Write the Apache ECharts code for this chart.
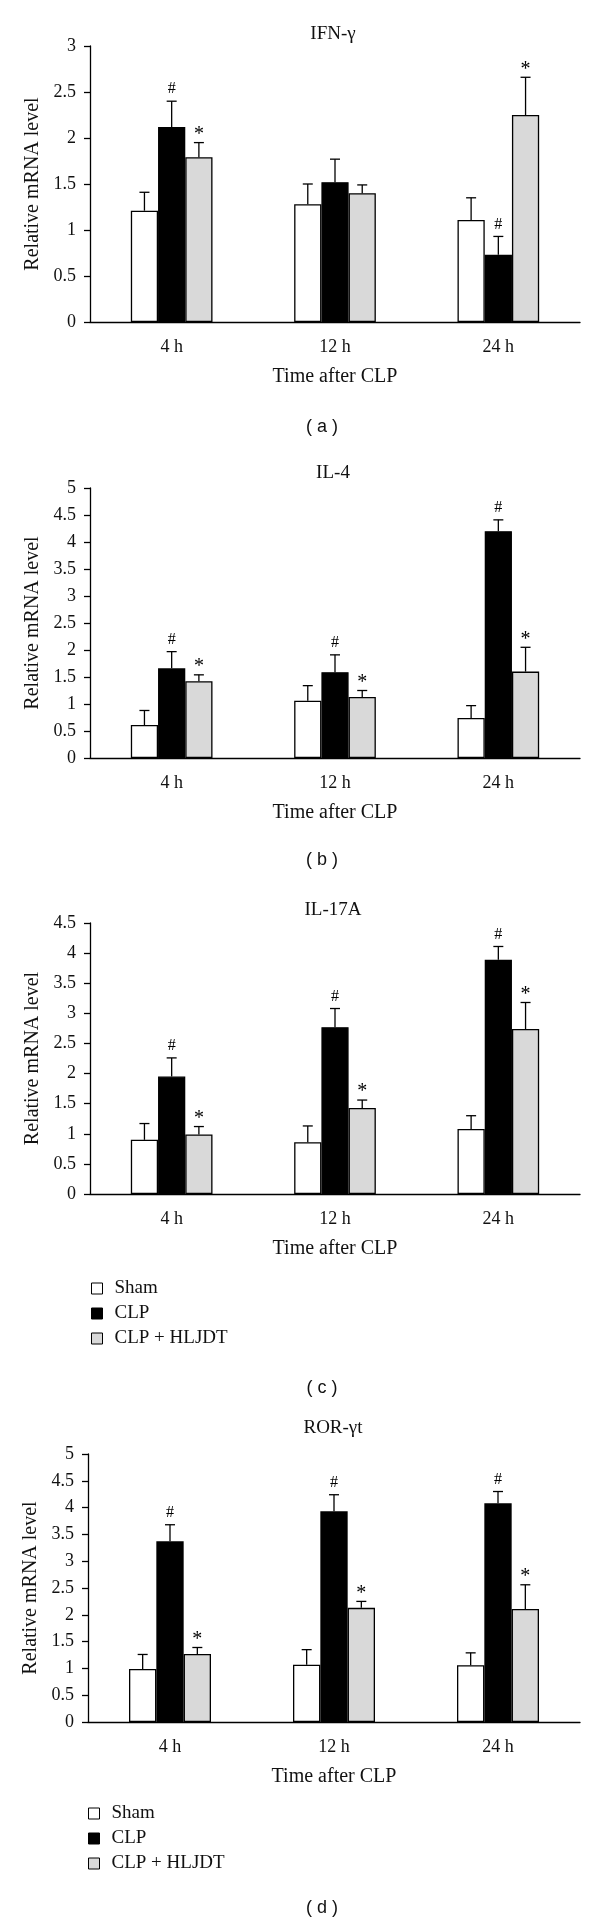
<!DOCTYPE html>
<html>
<head>
<meta charset="utf-8">
<title>Relative mRNA level after CLP</title>
<script src="https://cdn.jsdelivr.net/npm/echarts@6/dist/echarts.min.js"></script>
<style>
    html, body { margin: 0; padding: 0; background: #fff; }
    #chart { width: 600px; height: 1927px; }
</style>
</head>
<body>
<div id="chart"></div>
<script>
var categories = ['4 h', '12 h', '24 h'];
var groupNames = ['Sham', 'CLP', 'CLP + HLJDT'];

// IFN-γ
var ifnSham = [1.21, 1.28, 1.11];
var ifnShamErr = [0.20, 0.22, 0.24];
var ifnClp = [2.12, 1.52, 0.73];
var ifnClpErr = [0.28, 0.25, 0.20];
var ifnHljdt = [1.79, 1.40, 2.25];
var ifnHljdtErr = [0.16, 0.09, 0.41];
var ifnClpMarks = ['#', '', '#'];
var ifnHljdtMarks = ['*', '', '*'];

// IL-4
var il4Sham = [0.61, 1.06, 0.74];
var il4ShamErr = [0.27, 0.28, 0.23];
var il4Clp = [1.66, 1.59, 4.20];
var il4ClpErr = [0.31, 0.32, 0.21];
var il4Hljdt = [1.42, 1.13, 1.60];
var il4HljdtErr = [0.12, 0.12, 0.45];
var il4ClpMarks = ['#', '#', '#'];
var il4HljdtMarks = ['*', '*', '*'];

// IL-17A
var il17Sham = [0.90, 0.86, 1.08];
var il17ShamErr = [0.27, 0.27, 0.22];
var il17Clp = [1.95, 2.77, 3.89];
var il17ClpErr = [0.31, 0.31, 0.22];
var il17Hljdt = [0.99, 1.43, 2.74];
var il17HljdtErr = [0.13, 0.13, 0.44];
var il17ClpMarks = ['#', '#', '#'];
var il17HljdtMarks = ['*', '*', '*'];

// ROR-γt
var rorSham = [0.99, 1.07, 1.06];
var rorShamErr = [0.27, 0.28, 0.23];
var rorClp = [3.37, 3.93, 4.08];
var rorClpErr = [0.31, 0.31, 0.22];
var rorHljdt = [1.27, 2.13, 2.11];
var rorHljdtErr = [0.12, 0.12, 0.45];
var rorClpMarks = ['#', '#', '#'];
var rorHljdtMarks = ['*', '*', '*'];

var yMax = [3, 5, 4.5, 5];
var noMarks = ['', '', ''];

var serif = '"Liberation Serif", "DejaVu Serif", serif';
var sans = '"Liberation Sans", "DejaVu Sans", sans-serif';
var barColors = ['#ffffff', '#000000', '#d9d9d9'];

var panels = [
    { title: 'IFN-\u03b3', tag: '( a )', left: 90, top: 46, height: 276, titleY: 34, tagY: 427,
      vals: [ifnSham, ifnClp, ifnHljdt], errs: [ifnShamErr, ifnClpErr, ifnHljdtErr], marks: [noMarks, ifnClpMarks, ifnHljdtMarks] },
    { title: 'IL-4', tag: '( b )', left: 90, top: 488, height: 270, titleY: 473, tagY: 860,
      vals: [il4Sham, il4Clp, il4Hljdt], errs: [il4ShamErr, il4ClpErr, il4HljdtErr], marks: [noMarks, il4ClpMarks, il4HljdtMarks] },
    { title: 'IL-17A', tag: '( c )', left: 90, top: 923, height: 271, titleY: 910, tagY: 1388,
      vals: [il17Sham, il17Clp, il17Hljdt], errs: [il17ShamErr, il17ClpErr, il17HljdtErr], marks: [noMarks, il17ClpMarks, il17HljdtMarks] },
    { title: 'ROR-\u03b3t', tag: '( d )', left: 88, top: 1454, height: 268, titleY: 1428, tagY: 1908,
      vals: [rorSham, rorClp, rorHljdt], errs: [rorShamErr, rorClpErr, rorHljdtErr], marks: [noMarks, rorClpMarks, rorHljdtMarks] }
];

var chart = echarts.init(document.getElementById('chart'));

var option = {
    animation: false,
    backgroundColor: '#fff',
    grid: [],
    xAxis: [],
    yAxis: [],
    series: [],
    graphic: [],
    legend: []
};

function makeErrorRender(panel) {
    return function (params, api) {
        var cat = api.value(0);
        var idx = api.value(1);
        var val = api.value(2);
        var err = api.value(3);
        var band = api.size([1, 0])[0];
        var barW = band * 0.5 / 3;
        var base = api.coord([cat, val]);
        var x = base[0] + (idx - 1) * barW;
        var topY = api.coord([cat, val + err])[1];
        var children = [
            { type: 'line', shape: { x1: x, y1: base[1], x2: x, y2: topY }, style: { stroke: '#000', lineWidth: 1.3 } },
            { type: 'line', shape: { x1: x - 5, y1: topY, x2: x + 5, y2: topY }, style: { stroke: '#000', lineWidth: 1.3 } }
        ];
        var mark = panel.marks[idx][cat];
        if (mark) {
            children.push({
                type: 'text',
                style: {
                    text: mark,
                    x: x,
                    y: mark === '*' ? topY + 2 : topY - 4,
                    textAlign: 'center',
                    textVerticalAlign: 'bottom',
                    font: (mark === '*' ? '20px ' : '16px ') + serif,
                    fill: '#000'
                }
            });
        }
        return { type: 'group', children: children };
    };
}

panels.forEach(function (panel, p) {
    option.grid.push({ left: panel.left, right: 20, top: panel.top, height: panel.height });
    option.xAxis.push({
        type: 'category',
        gridIndex: p,
        data: categories,
        axisLine: { lineStyle: { color: '#000', width: 1.3 } },
        axisTick: { length: 6, lineStyle: { color: '#000', width: 1.3 } },
        axisLabel: { margin: 16, color: '#111', fontSize: 18, fontFamily: serif },
        name: 'Time after CLP',
        nameLocation: 'middle',
        nameGap: 45,
        nameTextStyle: { color: '#111', fontSize: 20, fontFamily: serif }
    });
    option.yAxis.push({
        type: 'value',
        gridIndex: p,
        min: 0,
        max: yMax[p],
        interval: 0.5,
        splitLine: { show: false },
        axisLine: { show: true, lineStyle: { color: '#000', width: 1.3 } },
        axisTick: { show: true, length: 6, lineStyle: { color: '#000', width: 1.3 } },
        axisLabel: { margin: 14, color: '#111', fontSize: 18, fontFamily: serif },
        name: 'Relative mRNA level',
        nameLocation: 'middle',
        nameGap: 46,
        nameTextStyle: { color: '#111', fontSize: 20, fontFamily: serif }
    });

    var errData = [];
    groupNames.forEach(function (name, g) {
        option.series.push({
            name: name,
            type: 'bar',
            xAxisIndex: p,
            yAxisIndex: p,
            barGap: '0%',
            barCategoryGap: '50%',
            data: panel.vals[g],
            itemStyle: { color: barColors[g], borderColor: '#000', borderWidth: 1.3 }
        });
        panel.vals[g].forEach(function (v, c) {
            errData.push([c, g, v, panel.errs[g][c]]);
        });
    });
    option.series.push({
        type: 'custom',
        xAxisIndex: p,
        yAxisIndex: p,
        renderItem: makeErrorRender(panel),
        encode: { x: 0, y: 2 },
        data: errData,
        z: 5
    });

    option.graphic.push({
        type: 'text',
        style: { text: panel.title, x: 333, y: panel.titleY, textAlign: 'center', textVerticalAlign: 'middle', font: '19px ' + serif, fill: '#111' }
    });
    option.graphic.push({
        type: 'text',
        style: { text: panel.tag, x: 322, y: panel.tagY, textAlign: 'center', textVerticalAlign: 'middle', font: '18px ' + sans, fill: '#111' }
    });
});

// legends under panels (c) and (d)
[{ top: 1274, left: 86 }, { top: 1799, left: 83 }].forEach(function (pos) {
    option.legend.push({
        top: pos.top,
        left: pos.left,
        orient: 'vertical',
        icon: 'rect',
        itemWidth: 11,
        itemHeight: 11,
        itemGap: 6,
        selectedMode: false,
        data: groupNames,
        itemStyle: { borderColor: '#000', borderWidth: 1 },
        textStyle: { color: '#111', fontSize: 19, fontFamily: serif, padding: [0, 0, 0, 7] }
    });
});

chart.setOption(option);
</script>
</body>
</html>
